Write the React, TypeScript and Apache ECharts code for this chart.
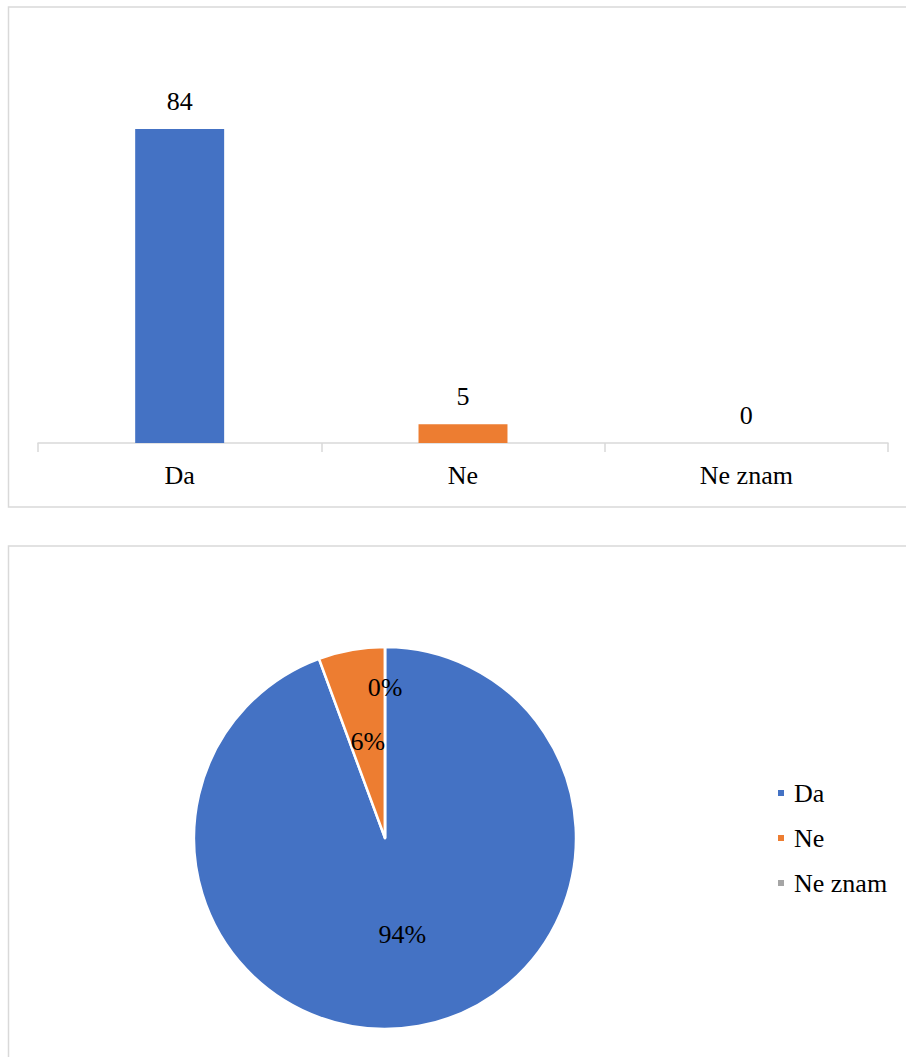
import React, { useEffect, useRef } from "react";
import * as echarts from "echarts";

const categories = ["Da", "Ne", "Ne znam"];
const counts = [84, 5, 0];
const colors = ["#4472C4", "#ED7D31", "#A5A5A5"];

const FONT = "Liberation Serif";
const FS = 26;

export default function App() {
  const ref = useRef<HTMLDivElement>(null);
  useEffect(() => {
    const chart = echarts.init(ref.current!, null, { renderer: "svg" });
    chart.setOption({
      animation: false,
      backgroundColor: "#fff",
      textStyle: { fontFamily: FONT, color: "#000" },
      graphic: [
        { type: "rect", shape: { x: 8.5, y: 7, width: 910, height: 500 }, style: { fill: "none", stroke: "#D9D9D9", lineWidth: 1.5 }, silent: true },
        { type: "rect", shape: { x: 8.5, y: 546, width: 910, height: 530 }, style: { fill: "none", stroke: "#D9D9D9", lineWidth: 1.5 }, silent: true },
      ],
      grid: { left: 38, right: 18, top: 106.6, height: 336.4, containLabel: false },
      xAxis: {
        type: "category",
        data: categories,
        axisLine: { lineStyle: { color: "#D9D9D9", width: 1.5 } },
        axisTick: { show: true, length: 9, lineStyle: { color: "#D9D9D9", width: 1.5 }, alignWithLabel: false },
        axisLabel: { fontFamily: FONT, fontSize: FS, color: "#000", margin: 19 },
      },
      yAxis: { type: "value", min: 0, max: 90, show: false, splitLine: { show: false } },
      legend: {
        data: categories,
        orient: "vertical",
        left: 776,
        top: 780,
        padding: 0,
        icon: "rect",
        itemWidth: 8,
        itemHeight: 8,
        itemGap: 19,
        textStyle: { fontFamily: FONT, fontSize: FS, color: "#000", padding: [0, 0, 0, 4] },
      },
      series: [
        {
          type: "bar",
          barWidth: "31.4%",
          data: counts.map((v, i) => ({ value: v, itemStyle: { color: colors[i] } })),
          label: { show: true, position: "top", distance: 15, fontFamily: FONT, fontSize: FS, color: "#000" },
        },
        {
          type: "pie",
          center: [385, 838],
          radius: 191,
          startAngle: 90,
          clockwise: true,
          color: colors,
          itemStyle: { borderColor: "#fff", borderWidth: 2.5 },
          data: categories.map((c, i) => ({ name: c, value: counts[i] })),
          label: {
            show: true,
            position: "inside",
            fontFamily: FONT,
            fontSize: FS,
            color: "#000",
            formatter: (p: any) => Math.round(p.percent) + "%",
          },
          labelLayout: (p: any) => (p.dataIndex === 2 ? { dy: -52 } : {}),
          labelLine: { show: false },
        },
      ],
    });
    return () => chart.dispose();
  }, []);
  return <div ref={ref} style={{ position: "absolute", left: 0, top: 0, width: 906, height: 1057 }} />;
}
